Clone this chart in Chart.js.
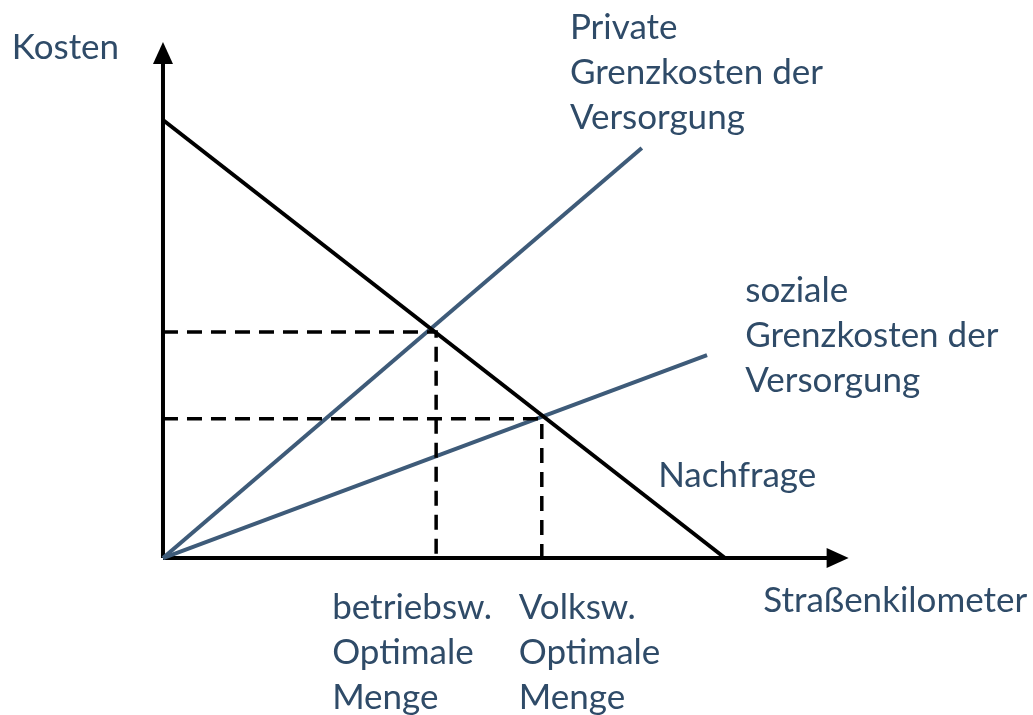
<!DOCTYPE html>
<html lang="de">
<head>
<meta charset="utf-8">
<title>Grenzkosten der Versorgung</title>
<script src="https://cdn.jsdelivr.net/npm/chart.js@4"></script>
<style>
    html, body { margin: 0; padding: 0; background: #ffffff; }
    #wrap { width: 1033px; height: 715px; position: relative; }
</style>
</head>
<body>
<div id="wrap"><canvas id="kostenChart"></canvas></div>
<script>
// Daten (Einheiten: Menge auf x, Kosten auf y)
const nachfrageX = [0, 10];
const nachfrageY = [10, 0];
const privatX = [0, 8.52];
const privatY = [0, 9.36];
const sozialX = [0, 9.68];
const sozialY = [0, 4.63];
// Optimale Mengen (Schnittpunkte)
const betriebswPunkt = [4.86, 5.16];
const volkswPunkt = [6.74, 3.18];
// Achsen
const xAchseEnde = 12.2;
const yAchseEnde = 11.78;

const BLAU = '#3e5b79';
const TEXT = '#2f4b68';
const SCHRIFT = 'Lato, "Open Sans", sans-serif';

const toPoints = (xs, ys) => xs.map((x, i) => ({ x: x, y: ys[i] }));

// Beschriftungen: Text, Position (linke Kante, Grundlinie) in Datenkoordinaten
const labels = [
    { lines: ['Kosten'], x: -2.69, y: 11.39 },
    { lines: ['Private', 'Grenzkosten der', 'Versorgung'], x: 7.24, y: 11.85 },
    { lines: ['soziale', 'Grenzkosten der', 'Versorgung'], x: 10.36, y: 5.84 },
    { lines: ['Nachfrage'], x: 8.81, y: 1.62 },
    { lines: ['Straßenkilometer'], x: 10.68, y: -1.23 },
    { lines: ['betriebsw.', 'Optimale', 'Menge'], x: 3.01, y: -1.39 },
    { lines: ['Volksw.', 'Optimale', 'Menge'], x: 6.33, y: -1.39 }
];

const pfeilPlugin = {
    id: 'pfeile',
    afterDatasetsDraw(chart) {
        const { ctx, scales: { x, y } } = chart;
        const ox = x.getPixelForValue(0), oy = y.getPixelForValue(0);
        const tx = x.getPixelForValue(xAchseEnde), ty = y.getPixelForValue(yAchseEnde);
        ctx.save();
        ctx.fillStyle = '#000';
        ctx.beginPath();
        ctx.moveTo(tx, oy);
        ctx.lineTo(tx - 22, oy - 10);
        ctx.lineTo(tx - 22, oy + 10);
        ctx.closePath();
        ctx.fill();
        ctx.beginPath();
        ctx.moveTo(ox, ty);
        ctx.lineTo(ox - 10, ty + 22);
        ctx.lineTo(ox + 10, ty + 22);
        ctx.closePath();
        ctx.fill();
        ctx.restore();
    }
};

const textPlugin = {
    id: 'texte',
    afterDraw(chart) {
        const { ctx, scales: { x, y } } = chart;
        ctx.save();
        ctx.fillStyle = TEXT;
        ctx.font = '35px ' + SCHRIFT;
        ctx.textBaseline = 'alphabetic';
        ctx.textAlign = 'left';
        labels.forEach(l => {
            const px = x.getPixelForValue(l.x);
            const py = y.getPixelForValue(l.y);
            l.lines.forEach((t, i) => ctx.fillText(t, px, py + i * 45));
        });
        ctx.restore();
    }
};

const lineDs = (data, color, width, dash) => ({
    data: data,
    borderColor: color,
    borderWidth: width,
    borderDash: dash || [],
    pointRadius: 0,
    showLine: true,
    fill: false,
    clip: false
});

new Chart(document.getElementById('kostenChart'), {
    type: 'scatter',
    data: {
        datasets: [
            lineDs([{ x: 0, y: betriebswPunkt[1] }, { x: betriebswPunkt[0], y: betriebswPunkt[1] }, { x: betriebswPunkt[0], y: 0 }], '#000', 3.5, [15, 9]),
            lineDs([{ x: 0, y: volkswPunkt[1] }, { x: volkswPunkt[0], y: volkswPunkt[1] }, { x: volkswPunkt[0], y: 0 }], '#000', 3.5, [15, 9]),
            lineDs(toPoints(nachfrageX, nachfrageY), '#000', 4),
            lineDs(toPoints(privatX, privatY), BLAU, 4),
            lineDs(toPoints(sozialX, sozialY), BLAU, 4),
            lineDs([{ x: 0, y: 0 }, { x: xAchseEnde - 0.35, y: 0 }], '#000', 4),
            lineDs([{ x: 0, y: 0 }, { x: 0, y: yAchseEnde - 0.45 }], '#000', 4)
        ]
    },
    options: {
        responsive: true,
        maintainAspectRatio: false,
        animation: false,
        layout: { padding: 0 },
        plugins: { legend: { display: false }, tooltip: { enabled: false } },
        scales: {
            x: { type: 'linear', min: -2.9, max: 15.48, display: false },
            y: { type: 'linear', min: -3.584, max: 12.74, display: false }
        }
    },
    plugins: [pfeilPlugin, textPlugin]
});
</script>
</body>
</html>
